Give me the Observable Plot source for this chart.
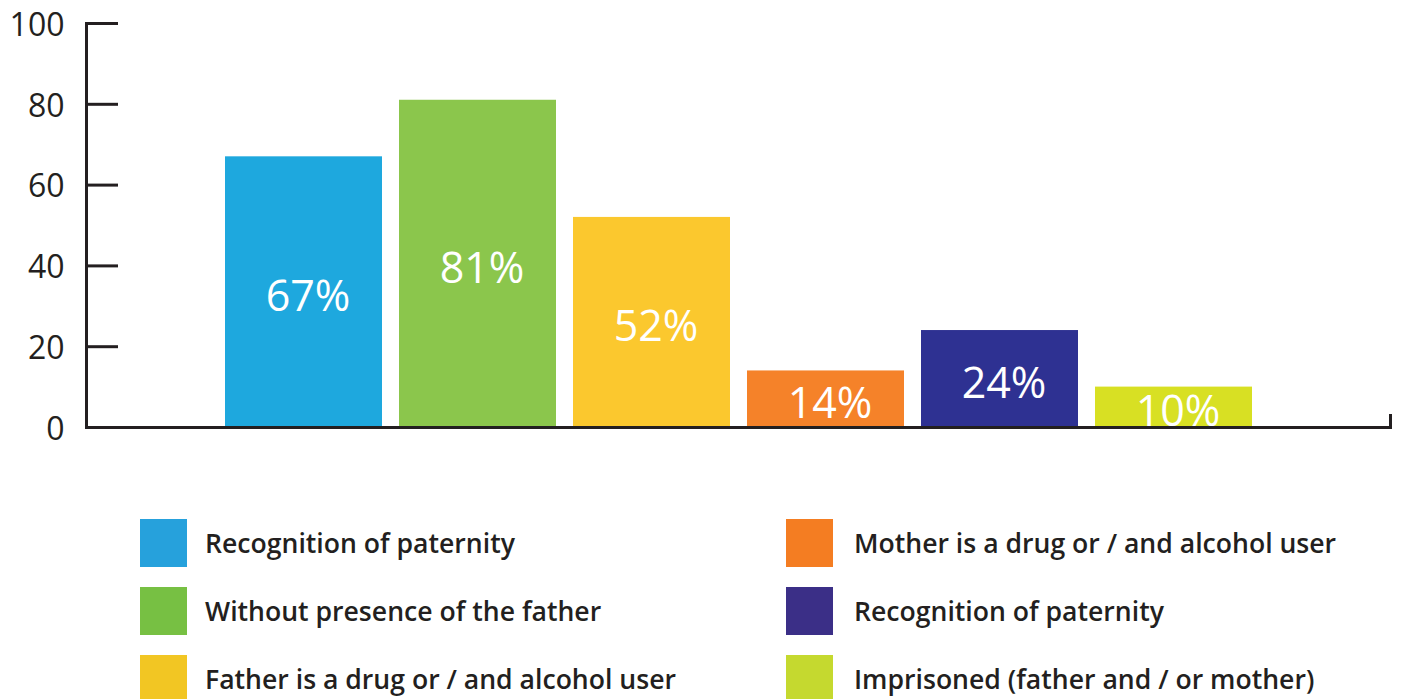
<!DOCTYPE html>
<html>
<head>
<meta charset="utf-8">
<script src="https://cdn.jsdelivr.net/npm/d3@7"></script>
<script src="https://cdn.jsdelivr.net/npm/@observablehq/plot@0.6"></script>
<style>
  html, body { margin: 0; padding: 0; background: #fff; }
  #chart svg { display: block; }
  #legend {
    position: relative;
    margin-top: 69px;
    height: 200px;
    font-family: "Open Sans", sans-serif;
    font-weight: 600;
    font-size: 26.6px;
    color: #231f20;
  }
  .col { position: absolute; top: 0; }
  .item { display: flex; align-items: center; height: 48px; margin-bottom: 20px; }
  .sw { width: 47px; height: 48px; flex: none; }
  .lab { white-space: nowrap; }
</style>
</head>
<body>
<div id="chart"></div>
<div id="legend"></div>
<script>
const categories = [
  "Recognition of paternity",
  "Without presence of the father",
  "Father is a drug or / and alcohol user",
  "Mother is a drug or / and alcohol user",
  "Recognition of paternity",
  "Imprisoned (father and / or mother)"
];
const values = [67, 81, 52, 14, 24, 10];
const valueLabels = ["67%", "81%", "52%", "14%", "24%", "10%"];
const yTicks = [0, 20, 40, 60, 80, 100];

const barColors = ["#1ea8de", "#8bc64c", "#fbc82e", "#f58229", "#2e3192", "#d8e023"];
const legendColors = ["#26a1dc", "#77c043", "#f2c623", "#f47d22", "#3b2f87", "#c5d92f"];

const data = categories.map((c, i) => ({id: i, category: c, value: values[i], label: valueLabels[i], color: barColors[i]}));
const ids = data.map(d => d.id);

const W = 1402, H = 450;
const mTop = 23, mBottom = H - 427, mLeft = 86, mRight = W - 1390;
const ink = "#231f20";

const chart = Plot.plot({
  width: W,
  height: H,
  marginTop: mTop,
  marginBottom: mBottom,
  marginLeft: mLeft,
  marginRight: mRight,
  style: {fontFamily: "Open Sans, sans-serif", background: "#fff"},
  x: {type: "band", domain: ids, range: [216.5, 1260.5], paddingInner: 17 / 174, paddingOuter: 17 / 348, axis: null},
  y: {domain: [0, 100], ticks: yTicks, label: null},
  marks: [
    Plot.barY(data, {x: "id", y: "value", fill: "color"}),
    Plot.text(data, {x: "id", y: d => d.value / 2, text: "label", fill: "#fff", fontSize: 43, fontWeight: 400, dx: 4, dy: 5}),
    Plot.axisY(yTicks, {tickSize: 0, tickPadding: 22, fontSize: 32, fill: ink, label: null, dy: 2, tickFormat: d => String(d)}),
    Plot.ruleY(yTicks.filter(d => d > 0), {stroke: ink, strokeWidth: 3, insetRight: 1390 - 118}),
    Plot.frame({anchor: "left", stroke: ink, strokeWidth: 3}),
    Plot.ruleY([0], {stroke: ink, strokeWidth: 3}),
    Plot.frame({anchor: "right", stroke: ink, strokeWidth: 3, insetTop: 392})
  ]
});
document.getElementById("chart").appendChild(chart);

// Legend (two columns of three)
const legend = document.getElementById("legend");
const cols = [{left: 140, items: [0, 1, 2]}, {left: 786, items: [3, 4, 5]}];
cols.forEach(col => {
  const div = document.createElement("div");
  div.className = "col";
  div.style.left = col.left + "px";
  col.items.forEach(i => {
    const item = document.createElement("div");
    item.className = "item";
    const sw = document.createElement("div");
    sw.className = "sw";
    sw.style.background = legendColors[i];
    const lab = document.createElement("div");
    lab.className = "lab";
    lab.style.marginLeft = (col.left === 140 ? 18 : 21) + "px";
    lab.textContent = categories[i];
    item.appendChild(sw);
    item.appendChild(lab);
    div.appendChild(item);
  });
  legend.appendChild(div);
});
</script>
</body>
</html>
